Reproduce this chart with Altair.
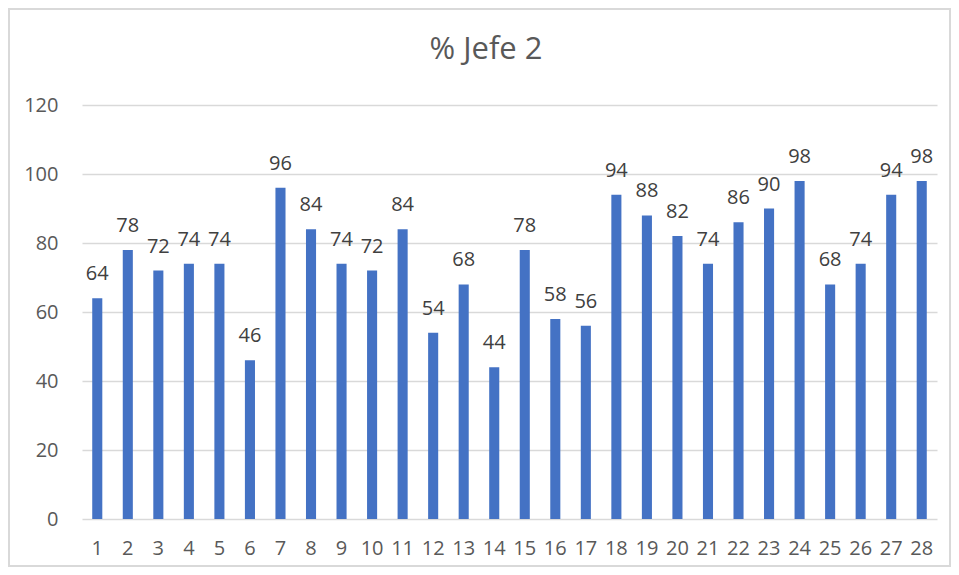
import altair as alt
import pandas as pd

categories = [str(i) for i in range(1, 29)]
values = [64, 78, 72, 74, 74, 46, 96, 84, 74, 72, 84, 54, 68, 44, 78,
          58, 56, 94, 88, 82, 74, 86, 90, 98, 68, 74, 94, 98]
title_text = "% Jefe 2"
y_ticks = [0, 20, 40, 60, 80, 100, 120]

df = pd.DataFrame({"cat": categories, "val": values})

W, H = 855, 414
PL, PT, PR, PB = 74, 97, 14, 48
FONT = "Open Sans"

xenc = alt.X("cat:N", sort=categories,
             scale=alt.Scale(paddingInner=0.67, paddingOuter=0.335),
             axis=alt.Axis(title=None, labelAngle=0, ticks=False, domain=False,
                           labelFontSize=20, labelColor="#595959", labelFont=FONT,
                           labelPadding=19))
yenc = alt.Y("val:Q", scale=alt.Scale(domain=[0, 120], nice=False),
             axis=alt.Axis(title=None, values=y_ticks, ticks=False, domain=False,
                           gridColor="#d9d9d9", gridWidth=1.3,
                           labelFontSize=20, labelColor="#595959", labelFont=FONT,
                           labelPadding=24))

bars = alt.Chart(df).mark_bar(color="#4472C4").encode(x=xenc, y=yenc)
labels = alt.Chart(df).mark_text(baseline="alphabetic", dy=-18, fontSize=20,
                                 color="#404040", font=FONT).encode(
    x=alt.X("cat:N", sort=categories), y="val:Q", text="val:Q")

border = alt.Chart(pd.DataFrame({"a": [0]})).mark_rect(
    fill=None, stroke="#d9d9d9", strokeWidth=2).encode(
    x=alt.value(-PL + 1), x2=alt.value(W + PR - 1),
    y=alt.value(-PT + 1), y2=alt.value(H + PB - 1))

title = alt.Chart(pd.DataFrame({"t": [title_text]})).mark_text(
    fontSize=31, color="#595959", font=FONT, align="center", baseline="middle").encode(
    x=alt.value(486 - 8 - PL), y=alt.value(50 - 8 - PT), text="t:N")

chart = alt.layer(border, bars, labels, title).properties(
    width=W, height=H,
    autosize=alt.AutoSizeParams(type="none"),
    padding={"left": PL, "top": PT, "right": PR, "bottom": PB},
).configure_view(stroke=None)

chart.save("out.html", embed_options={"renderer": "svg", "actions": False})
